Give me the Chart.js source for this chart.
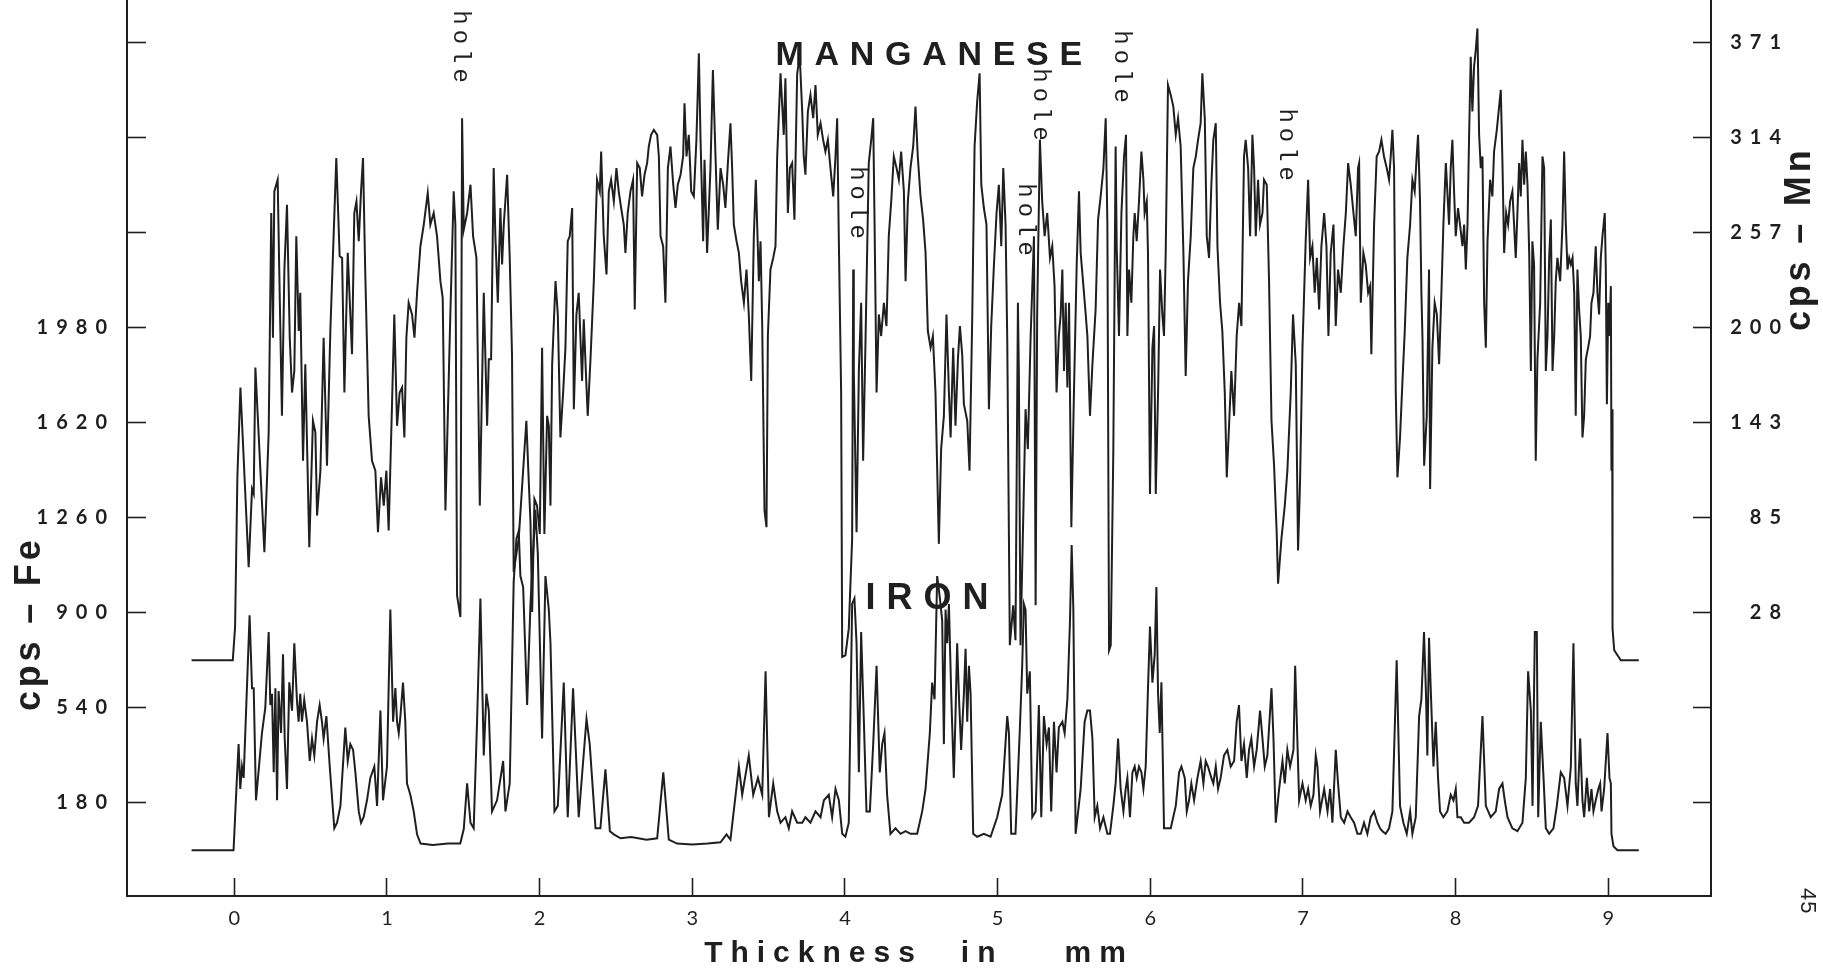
<!DOCTYPE html>
<html>
<head>
<meta charset="utf-8">
<title>Manganese and iron profile</title>
<script src="https://cdn.jsdelivr.net/npm/chart.js@4.4.1/dist/chart.umd.min.js"></script>
<style>
  html, body { margin: 0; padding: 0; background: #fff; overflow: hidden; }
  canvas { display: block; }
</style>
</head>
<body>
<canvas id="profile" width="1823" height="972"></canvas>
<script>
// x axis: thickness in mm
const xTicks = [0, 1, 2, 3, 4, 5, 6, 7, 8, 9];

// left axis: counts per second, iron
const feTicks = [180, 540, 900, 1260, 1620, 1980, 2340, 2700, 3060];
const feTickLabels = ["180", "540", "900", "1260", "1620", "1980", "", "", ""];

// right axis: counts per second, manganese
const mnTicks = [-85.71, -28.57, 28.57, 85.71, 142.86, 200, 257.14, 314.29, 371.43];
const mnTickLabels = ["", "", "28", "85", "143", "200", "257", "314", "371"];

// iron trace (mm, cps)
const feThickness = [
  -0.28, -0.005, 0.017, 0.028, 0.039, 0.05, 0.061, 0.1, 0.116, 0.127, 0.142, 0.181, 0.203, 0.225, 0.236, 0.247,
  0.258, 0.269, 0.28, 0.29, 0.306, 0.319, 0.33, 0.345, 0.36, 0.378, 0.393, 0.41, 0.421, 0.432, 0.443, 0.458,
  0.476, 0.494, 0.509, 0.524, 0.542, 0.559, 0.574, 0.585, 0.603, 0.625, 0.655, 0.673, 0.695, 0.727, 0.743, 0.76,
  0.778, 0.793, 0.815, 0.83, 0.847, 0.869, 0.891, 0.917, 0.935, 0.957, 0.974, 1.0, 1.022, 1.04, 1.055, 1.066,
  1.077, 1.088, 1.105, 1.12, 1.131, 1.153, 1.175, 1.197, 1.22, 1.3, 1.4, 1.48, 1.503, 1.525, 1.547, 1.568,
  1.59, 1.612, 1.634, 1.651, 1.667, 1.688, 1.721, 1.761, 1.776, 1.804, 1.83, 1.848, 1.863, 1.874, 1.892, 1.918,
  1.94, 1.957, 1.972, 1.988, 2.016, 2.038, 2.06, 2.071, 2.097, 2.119, 2.158, 2.184, 2.219, 2.256, 2.307, 2.328,
  2.366, 2.398, 2.431, 2.46, 2.486, 2.53, 2.6, 2.7, 2.77, 2.81, 2.846, 2.9, 3.0, 3.1, 3.185, 3.224,
  3.25, 3.305, 3.327, 3.37, 3.399, 3.43, 3.458, 3.48, 3.502, 3.53, 3.556, 3.578, 3.61, 3.632, 3.654, 3.687,
  3.72, 3.741, 3.774, 3.807, 3.84, 3.862, 3.894, 3.916, 3.938, 3.96, 3.982, 4.003, 4.025, 4.047, 4.062, 4.076,
  4.091, 4.106, 4.124, 4.141, 4.163, 4.185, 4.207, 4.228, 4.244, 4.259, 4.276, 4.298, 4.331, 4.364, 4.397, 4.43,
  4.473, 4.506, 4.528, 4.556, 4.571, 4.587, 4.604, 4.622, 4.637, 4.648, 4.659, 4.67, 4.681, 4.696, 4.713, 4.724,
  4.735, 4.746, 4.761, 4.779, 4.79, 4.801, 4.812, 4.823, 4.84, 4.866, 4.91, 4.954, 4.997, 5.03, 5.063, 5.074,
  5.089, 5.117, 5.146, 5.161, 5.172, 5.183, 5.194, 5.211, 5.227, 5.249, 5.27, 5.286, 5.303, 5.321, 5.336, 5.351,
  5.369, 5.386, 5.401, 5.424, 5.439, 5.457, 5.474, 5.485, 5.496, 5.511, 5.544, 5.57, 5.588, 5.605, 5.621, 5.636,
  5.653, 5.671, 5.693, 5.719, 5.736, 5.758, 5.773, 5.789, 5.806, 5.824, 5.839, 5.85, 5.867, 5.883, 5.898, 5.911,
  5.926, 5.942, 5.955, 5.97, 5.985, 5.998, 6.014, 6.029, 6.04, 6.051, 6.062, 6.073, 6.09, 6.134, 6.167, 6.189,
  6.204, 6.226, 6.239, 6.254, 6.269, 6.287, 6.309, 6.33, 6.348, 6.363, 6.378, 6.4, 6.413, 6.429, 6.444, 6.461,
  6.483, 6.505, 6.527, 6.549, 6.566, 6.581, 6.597, 6.614, 6.632, 6.647, 6.662, 6.68, 6.697, 6.719, 6.735, 6.75,
  6.767, 6.785, 6.794, 6.807, 6.822, 6.844, 6.866, 6.881, 6.898, 6.916, 6.938, 6.949, 6.96, 6.975, 6.997, 7.018,
  7.034, 7.051, 7.069, 7.084, 7.095, 7.112, 7.139, 7.161, 7.178, 7.193, 7.215, 7.23, 7.248, 7.27, 7.292, 7.313,
  7.335, 7.357, 7.379, 7.4, 7.422, 7.444, 7.466, 7.488, 7.505, 7.521, 7.542, 7.564, 7.586, 7.614, 7.636, 7.658,
  7.68, 7.702, 7.717, 7.739, 7.761, 7.776, 7.793, 7.806, 7.815, 7.826, 7.837, 7.855, 7.87, 7.885, 7.898, 7.92,
  7.946, 7.968, 7.986, 8.001, 8.012, 8.034, 8.056, 8.088, 8.121, 8.147, 8.176, 8.198, 8.23, 8.263, 8.285, 8.307,
  8.322, 8.34, 8.372, 8.405, 8.438, 8.46, 8.475, 8.493, 8.504, 8.519, 8.532, 8.541, 8.558, 8.576, 8.591, 8.613,
  8.641, 8.663, 8.689, 8.711, 8.733, 8.755, 8.772, 8.787, 8.798, 8.816, 8.831, 8.842, 8.86, 8.875, 8.89, 8.903,
  8.918, 8.935, 8.947, 8.956, 8.973, 8.995, 9.008, 9.017, 9.021, 9.034, 9.06, 9.2
];
const feCps = [
  0, 0, 274, 402, 232, 317, 274, 890, 614, 614, 189, 444, 540, 827, 550, 593,
  295, 614, 189, 603, 444, 742, 423, 232, 636, 529, 784, 570, 487, 593, 487, 570,
  487, 338, 423, 359, 487, 550, 487, 423, 508, 317, 83, 104, 168, 465, 338, 402,
  380, 295, 147, 104, 125, 189, 274, 317, 168, 529, 189, 317, 912, 487, 614, 487,
  444, 508, 635, 487, 253, 210, 147, 60, 25, 20, 25, 25, 80, 253, 104, 83,
  487, 954, 359, 593, 529, 147, 189, 338, 147, 253, 1018, 1180, 1210, 1039, 997, 550,
  933, 1124, 1290, 1124, 423, 1039, 912, 784, 147, 168, 635, 125, 614, 125, 497, 402,
  83, 83, 306, 72, 60, 45, 50, 40, 45, 295, 40, 25, 22, 25, 30, 60,
  40, 317, 210, 359, 210, 274, 210, 678, 125, 253, 147, 104, 125, 83, 147, 104,
  104, 125, 104, 147, 125, 189, 210, 125, 232, 189, 62, 51, 104, 933, 954, 784,
  295, 827, 487, 147, 147, 402, 699, 295, 402, 444, 210, 62, 83, 62, 72, 62,
  62, 147, 232, 444, 635, 572, 1039, 954, 869, 402, 912, 784, 933, 593, 274, 508,
  784, 593, 380, 593, 763, 487, 699, 593, 62, 51, 62, 51, 125, 210, 508, 444,
  62, 62, 465, 699, 933, 912, 593, 678, 125, 147, 550, 125, 508, 402, 465, 147,
  487, 295, 465, 487, 444, 572, 869, 1156, 912, 62, 232, 487, 529, 529, 423, 125,
  168, 83, 125, 62, 62, 168, 253, 423, 232, 147, 232, 274, 125, 295, 317, 274,
  317, 295, 232, 317, 614, 848, 635, 742, 997, 593, 444, 636, 83, 83, 168, 295,
  317, 274, 147, 189, 253, 189, 274, 338, 253, 338, 317, 274, 253, 317, 232, 274,
  359, 380, 317, 338, 487, 550, 338, 402, 274, 380, 423, 317, 380, 529, 423, 317,
  359, 529, 614, 423, 104, 232, 338, 253, 380, 317, 380, 699, 487, 189, 253, 189,
  232, 168, 210, 359, 317, 147, 232, 147, 232, 104, 380, 253, 125, 104, 147, 125,
  104, 62, 62, 104, 62, 125, 147, 104, 83, 72, 62, 83, 147, 720, 168, 104,
  62, 147, 62, 125, 508, 572, 827, 593, 359, 805, 614, 317, 487, 274, 147, 125,
  147, 210, 189, 232, 125, 125, 104, 104, 125, 168, 508, 168, 125, 147, 232, 253,
  189, 125, 83, 72, 104, 274, 678, 529, 168, 827, 827, 125, 487, 274, 83, 62,
  83, 168, 295, 274, 168, 317, 784, 253, 168, 423, 189, 125, 274, 147, 232, 147,
  189, 232, 253, 147, 232, 444, 274, 253, 62, 15, 0, 0
];

// manganese trace (mm, cps)
const mnThickness = [
  -0.28, -0.01, 0.005, 0.02, 0.04, 0.094, 0.116, 0.127, 0.138, 0.197, 0.225, 0.242, 0.253, 0.262, 0.284, 0.297,
  0.312, 0.328, 0.345, 0.363, 0.378, 0.393, 0.406, 0.422, 0.432, 0.45, 0.465, 0.491, 0.515, 0.531, 0.542, 0.564,
  0.585, 0.607, 0.629, 0.668, 0.69, 0.706, 0.721, 0.743, 0.771, 0.786, 0.8, 0.815, 0.83, 0.843, 0.858, 0.88,
  0.902, 0.924, 0.941, 0.961, 0.979, 0.996, 1.011, 1.033, 1.048, 1.066, 1.083, 1.099, 1.114, 1.127, 1.142, 1.164,
  1.18, 1.197, 1.219, 1.241, 1.267, 1.284, 1.306, 1.328, 1.35, 1.365, 1.383, 1.415, 1.437, 1.448, 1.459, 1.481,
  1.492, 1.503, 1.525, 1.547, 1.564, 1.586, 1.608, 1.634, 1.656, 1.667, 1.682, 1.699, 1.71, 1.726, 1.743, 1.754,
  1.765, 1.787, 1.804, 1.819, 1.83, 1.841, 1.863, 1.896, 1.913, 1.929, 1.94, 1.951, 1.966, 1.983, 2.001, 2.016,
  2.031, 2.049, 2.06, 2.071, 2.082, 2.104, 2.119, 2.136, 2.154, 2.169, 2.184, 2.197, 2.213, 2.224, 2.241, 2.256,
  2.278, 2.289, 2.307, 2.315, 2.333, 2.355, 2.376, 2.394, 2.403, 2.42, 2.438, 2.453, 2.468, 2.486, 2.503, 2.518,
  2.534, 2.551, 2.562, 2.577, 2.595, 2.612, 2.623, 2.639, 2.656, 2.671, 2.687, 2.704, 2.715, 2.73, 2.748, 2.77,
  2.781, 2.792, 2.809, 2.824, 2.84, 2.857, 2.875, 2.89, 2.905, 2.923, 2.94, 2.949, 2.962, 2.977, 2.993, 3.01,
  3.027, 3.043, 3.054, 3.071, 3.08, 3.097, 3.119, 3.135, 3.152, 3.167, 3.185, 3.202, 3.217, 3.233, 3.25, 3.261,
  3.272, 3.29, 3.305, 3.32, 3.338, 3.355, 3.37, 3.386, 3.403, 3.416, 3.436, 3.447, 3.458, 3.473, 3.486, 3.495,
  3.512, 3.53, 3.545, 3.556, 3.578, 3.599, 3.61, 3.626, 3.639, 3.654, 3.669, 3.687, 3.704, 3.72, 3.73, 3.741,
  3.757, 3.774, 3.792, 3.807, 3.822, 3.84, 3.857, 3.872, 3.888, 3.905, 3.923, 3.938, 3.949, 3.96, 3.975, 3.982,
  4.003, 4.025, 4.047, 4.054, 4.058, 4.076, 4.091, 4.106, 4.119, 4.135, 4.156, 4.172, 4.185, 4.194, 4.207, 4.222,
  4.237, 4.255, 4.272, 4.287, 4.303, 4.32, 4.338, 4.353, 4.368, 4.386, 4.397, 4.412, 4.429, 4.447, 4.462, 4.477,
  4.495, 4.512, 4.528, 4.543, 4.561, 4.576, 4.593, 4.615, 4.63, 4.648, 4.665, 4.681, 4.692, 4.709, 4.724, 4.74,
  4.753, 4.768, 4.779, 4.801, 4.816, 4.834, 4.849, 4.866, 4.882, 4.893, 4.91, 4.927, 4.943, 4.958, 4.976, 4.993,
  5.008, 5.024, 5.037, 5.052, 5.063, 5.08, 5.102, 5.117, 5.133, 5.139, 5.15, 5.183, 5.198, 5.216, 5.238, 5.249,
  5.259, 5.277, 5.292, 5.308, 5.325, 5.343, 5.358, 5.373, 5.386, 5.401, 5.413, 5.424, 5.435, 5.446, 5.457, 5.468,
  5.483, 5.5, 5.518, 5.533, 5.544, 5.562, 5.577, 5.588, 5.605, 5.621, 5.642, 5.658, 5.675, 5.693, 5.708, 5.719,
  5.73, 5.741, 5.758, 5.773, 5.78, 5.795, 5.811, 5.828, 5.841, 5.85, 5.861, 5.876, 5.889, 5.898, 5.911, 5.926,
  5.942, 5.955, 5.963, 5.977, 5.985, 5.998, 6.014, 6.025, 6.036, 6.051, 6.064, 6.079, 6.09, 6.101, 6.116, 6.134,
  6.151, 6.167, 6.182, 6.199, 6.217, 6.232, 6.247, 6.265, 6.282, 6.298, 6.313, 6.33, 6.341, 6.357, 6.37, 6.385,
  6.4, 6.413, 6.429, 6.44, 6.457, 6.472, 6.488, 6.501, 6.516, 6.531, 6.549, 6.566, 6.582, 6.597, 6.614, 6.625,
  6.641, 6.654, 6.669, 6.68, 6.691, 6.706, 6.719, 6.735, 6.745, 6.763, 6.778, 6.794, 6.811, 6.828, 6.837, 6.859,
  6.881, 6.898, 6.92, 6.935, 6.953, 6.968, 6.981, 6.997, 7.018, 7.034, 7.047, 7.062, 7.077, 7.091, 7.106, 7.121,
  7.139, 7.154, 7.167, 7.182, 7.2, 7.215, 7.23, 7.248, 7.265, 7.281, 7.296, 7.313, 7.331, 7.346, 7.361, 7.368,
  7.379, 7.396, 7.411, 7.427, 7.44, 7.448, 7.466, 7.483, 7.499, 7.514, 7.531, 7.549, 7.564, 7.575, 7.586, 7.597,
  7.608, 7.619, 7.636, 7.652, 7.667, 7.684, 7.702, 7.717, 7.732, 7.745, 7.754, 7.767, 7.776, 7.783, 7.794, 7.811,
  7.826, 7.833, 7.848, 7.863, 7.877, 7.892, 7.907, 7.92, 7.936, 7.946, 7.957, 7.968, 7.979, 7.99, 8.001, 8.016,
  8.029, 8.045, 8.056, 8.067, 8.078, 8.088, 8.099, 8.11, 8.121, 8.132, 8.143, 8.154, 8.165, 8.176, 8.187, 8.198,
  8.209, 8.226, 8.241, 8.252, 8.27, 8.285, 8.296, 8.307, 8.318, 8.331, 8.344, 8.357, 8.372, 8.383, 8.394, 8.405,
  8.416, 8.427, 8.438, 8.449, 8.46, 8.471, 8.482, 8.493, 8.503, 8.514, 8.525, 8.536, 8.554, 8.569, 8.58, 8.591,
  8.602, 8.613, 8.624, 8.635, 8.646, 8.656, 8.667, 8.685, 8.7, 8.711, 8.722, 8.733, 8.744, 8.755, 8.766, 8.777,
  8.787, 8.798, 8.809, 8.82, 8.831, 8.842, 8.853, 8.868, 8.881, 8.89, 8.903, 8.918, 8.929, 8.94, 8.951, 8.962,
  8.977, 8.984, 8.991, 9.0, 9.008, 9.017, 9.021, 9.026, 9.028, 9.039, 9.082, 9.2
];
const mnCps = [
  0, 0, 20, 110, 164, 56, 103, 100, 176, 65, 137, 269, 194, 282, 289, 221,
  147, 235, 274, 194, 161, 174, 255, 198, 221, 120, 178, 68, 144, 137, 87, 114,
  194, 117, 198, 302, 243, 242, 161, 245, 184, 269, 276, 252, 282, 302, 232, 147,
  120, 114, 77, 110, 93, 114, 78, 154, 208, 141, 161, 164, 134, 194, 215, 208,
  194, 221, 249, 262, 281, 262, 269, 255, 228, 218, 90, 208, 282, 262, 39, 26,
  326, 259, 269, 286, 255, 242, 93, 221, 141, 181, 181, 296, 255, 215, 272, 238,
  262, 292, 242, 184, 53, 60, 73, 120, 144, 107, 83, 29, 97, 93, 76, 188,
  76, 147, 141, 93, 178, 228, 208, 134, 161, 188, 252, 255, 272, 151, 208, 221,
  168, 205, 164, 147, 181, 228, 289, 282, 306, 255, 232, 282, 289, 276, 296, 282,
  272, 262, 245, 269, 282, 289, 211, 299, 296, 279, 292, 299, 309, 316, 319, 316,
  303, 255, 249, 215, 296, 309, 286, 272, 286, 292, 303, 335, 303, 316, 282, 279,
  313, 365, 313, 252, 301, 245, 296, 355, 303, 259, 296, 286, 272, 299, 323, 296,
  262, 252, 245, 228, 215, 235, 208, 168, 255, 289, 228, 252, 201, 90, 80, 195,
  235, 242, 249, 303, 353, 316, 350, 269, 296, 299, 265, 353, 363, 330, 303, 292,
  330, 340, 326, 346, 316, 323, 313, 306, 313, 296, 279, 303, 326, 252, 161, 2,
  3, 19, 73, 235, 174, 77, 174, 215, 120, 194, 299, 313, 326, 262, 161, 208,
  195, 215, 201, 255, 276, 303, 296, 289, 306, 282, 228, 276, 296, 309, 333, 303,
  279, 265, 245, 198, 188, 195, 161, 70, 127, 147, 208, 161, 134, 188, 141, 181,
  201, 184, 154, 144, 114, 208, 309, 336, 353, 286, 272, 262, 151, 201, 238, 269,
  286, 249, 296, 262, 194, 9, 33, 12, 215, 174, 9, 151, 127, 194, 255, 33,
  208, 313, 276, 255, 269, 242, 249, 225, 161, 195, 208, 235, 174, 215, 164, 215,
  80, 161, 238, 282, 245, 225, 208, 195, 147, 178, 211, 265, 279, 296, 326, 262,
  6, 9, 127, 309, 249, 195, 269, 303, 316, 195, 235, 215, 255, 269, 252, 276,
  306, 289, 269, 276, 245, 100, 188, 201, 100, 161, 235, 208, 195, 245, 346, 340,
  333, 316, 326, 309, 245, 171, 228, 255, 296, 303, 313, 323, 353, 326, 255, 242,
  286, 313, 323, 249, 215, 198, 161, 110, 141, 174, 147, 195, 215, 201, 303, 313,
  296, 255, 316, 296, 255, 289, 262, 269, 289, 286, 228, 144, 117, 77, 46, 73,
  93, 114, 161, 208, 178, 66, 107, 188, 252, 289, 242, 249, 221, 242, 211, 249,
  269, 249, 195, 245, 262, 201, 235, 221, 249, 269, 299, 286, 269, 255, 296, 299,
  215, 245, 238, 221, 225, 184, 262, 303, 306, 313, 303, 296, 289, 303, 319, 296,
  161, 110, 134, 168, 198, 242, 262, 289, 282, 303, 316, 276, 221, 194, 117, 147,
  235, 103, 188, 215, 208, 178, 221, 262, 299, 282, 262, 296, 313, 282, 255, 272,
  262, 249, 262, 235, 262, 313, 363, 330, 357, 367, 380, 316, 296, 303, 215, 188,
  252, 289, 279, 306, 319, 333, 343, 299, 245, 269, 262, 276, 282, 262, 242, 269,
  299, 279, 313, 286, 306, 286, 245, 174, 252, 238, 120, 181, 215, 303, 296, 174,
  195, 242, 265, 174, 195, 228, 242, 228, 262, 306, 262, 235, 242, 238, 242, 221,
  147, 235, 211, 195, 134, 147, 181, 188, 195, 215, 221, 249, 221, 208, 242, 255,
  269, 235, 154, 215, 195, 225, 114, 151, 19, 6, 0, 0
];

// "hole" notes written on the record: thickness (mm) and height on the iron scale (cps)
const holeThickness = [1.481, 4.083, 5.183, 5.282, 5.813, 6.894];
const holeLevel = [3036, 2445, 2380, 2816, 2960, 2664];

// axis ranges as drawn on the original record
const X_MIN = -0.703, X_MAX = 9.673;
const FE_MIN = -173.6, FE_MAX = 3221.9;
const MN_MIN = -141.8, MN_MAX = 397.1;

const INK = "#1f1f1f";

function pairUp(xs, ys) {
    return xs.map((x, i) => ({ x: x, y: ys[i] }));
}

// letter spacing for the axis lettering (scales are drawn before the datasets)
const spacedAxisText = {
    id: "spacedAxisText",
    beforeDraw(chart) { chart.ctx.letterSpacing = "8px"; },
    beforeDatasetsDraw(chart) { chart.ctx.letterSpacing = "0px"; }
};

// free lettering on the record: trace names, hole notes, side titles, page number
const recordLettering = {
    id: "recordLettering",
    afterDraw(chart) {
        const ctx = chart.ctx;
        const x = chart.scales.x;
        const y = chart.scales.y;
        ctx.save();
        ctx.fillStyle = INK;
        ctx.textBaseline = "alphabetic";

        ctx.font = "bold 34px 'Liberation Sans', Arial, sans-serif";
        ctx.letterSpacing = "10.7px";
        ctx.textAlign = "left";
        ctx.fillText("MANGANESE", x.getPixelForValue(3.545), y.getPixelForValue(2975));

        ctx.font = "bold 36px 'Liberation Sans', Arial, sans-serif";
        ctx.letterSpacing = "11px";
        ctx.fillText("IRON", x.getPixelForValue(4.135), y.getPixelForValue(914));

        ctx.font = "24px 'Liberation Mono', 'DejaVu Sans Mono', monospace";
        ctx.letterSpacing = "5px";
        ctx.textAlign = "center";
        ctx.textBaseline = "middle";
        holeThickness.forEach((t, i) => {
            ctx.save();
            ctx.translate(x.getPixelForValue(t), y.getPixelForValue(holeLevel[i]));
            ctx.rotate(Math.PI / 2);
            ctx.fillText("hole", 0, 0);
            ctx.restore();
        });

        ctx.font = "bold 36px 'Liberation Sans', Arial, sans-serif";
        ctx.letterSpacing = "3.8px";
        ctx.textAlign = "left";
        ctx.textBaseline = "alphabetic";
        ctx.save();
        ctx.translate(40, 711);
        ctx.rotate(-Math.PI / 2);
        ctx.fillText("cps \u2013 Fe", 0, 0);
        ctx.restore();

        ctx.save();
        ctx.translate(1810, 331);
        ctx.rotate(-Math.PI / 2);
        ctx.fillText("cps \u2013 Mn", 0, 0);
        ctx.restore();

        ctx.font = "22px 'Liberation Sans', Arial, sans-serif";
        ctx.letterSpacing = "1px";
        ctx.save();
        ctx.translate(1801, 888);
        ctx.rotate(Math.PI / 2);
        ctx.fillText("45", 0, 0);
        ctx.restore();

        ctx.restore();
    }
};

const tickFont = { family: "Lato, 'Liberation Sans', sans-serif", size: 20, weight: "bold" };

new Chart(document.getElementById("profile"), {
    type: "line",
    data: {
        datasets: [
            {
                label: "Manganese",
                data: pairUp(mnThickness, mnCps),
                yAxisID: "y2",
                borderColor: INK,
                borderWidth: 2,
                pointRadius: 0,
                tension: 0,
                fill: false
            },
            {
                label: "Iron",
                data: pairUp(feThickness, feCps),
                yAxisID: "y",
                borderColor: INK,
                borderWidth: 2,
                pointRadius: 0,
                tension: 0,
                fill: false
            }
        ]
    },
    options: {
        responsive: false,
        animation: false,
        events: [],
        layout: { padding: { left: 0, top: 0, right: 34, bottom: 0 }, autoPadding: false },
        plugins: {
            legend: { display: false },
            tooltip: { enabled: false }
        },
        scales: {
            x: {
                type: "linear",
                position: "bottom",
                min: X_MIN,
                max: X_MAX,
                afterBuildTicks: (scale) => { scale.ticks = xTicks.map(v => ({ value: v })); },
                afterFit: (scale) => { scale.height = 76; scale.paddingLeft = 0; scale.paddingRight = 0; },
                grid: { drawOnChartArea: false, tickLength: -18, tickWidth: 1.6, tickColor: INK },
                border: { color: INK, width: 2 },
                ticks: {
                    font: { family: "Lato, 'Liberation Sans', sans-serif", size: 20 },
                    color: INK,
                    padding: 29,
                    labelOffset: 4,
                    maxRotation: 0,
                    autoSkip: false,
                    callback: (value) => String(value)
                },
                title: {
                    display: true,
                    text: "Thickness\u2003in\u2003\u2002mm",
                    color: INK,
                    font: { family: "'Liberation Sans', Arial, sans-serif", size: 30, weight: "bold" },
                    padding: { top: 0, bottom: 0 }
                }
            },
            y: {
                type: "linear",
                position: "left",
                min: FE_MIN,
                max: FE_MAX,
                afterBuildTicks: (scale) => { scale.ticks = feTicks.map(v => ({ value: v })); },
                afterFit: (scale) => { scale.width = 127; scale.paddingTop = 0; scale.paddingBottom = 0; },
                grid: { drawOnChartArea: false, tickLength: -19, tickWidth: 1.6, tickColor: INK },
                border: { color: INK, width: 2 },
                ticks: {
                    font: tickFont,
                    color: INK,
                    padding: 31,
                    autoSkip: false,
                    callback: (value, index) => feTickLabels[index]
                }
            },
            y2: {
                type: "linear",
                position: "right",
                min: MN_MIN,
                max: MN_MAX,
                afterBuildTicks: (scale) => { scale.ticks = mnTicks.map(v => ({ value: v })); },
                afterFit: (scale) => { scale.width = 78; scale.paddingTop = 0; scale.paddingBottom = 0; },
                grid: { drawOnChartArea: false, tickLength: -18, tickWidth: 1.6, tickColor: INK },
                border: { color: INK, width: 2 },
                ticks: {
                    font: tickFont,
                    color: INK,
                    crossAlign: "far",
                    autoSkip: false,
                    callback: (value, index) => mnTickLabels[index]
                }
            }
        }
    },
    plugins: [spacedAxisText, recordLettering]
});
</script>
</body>
</html>
